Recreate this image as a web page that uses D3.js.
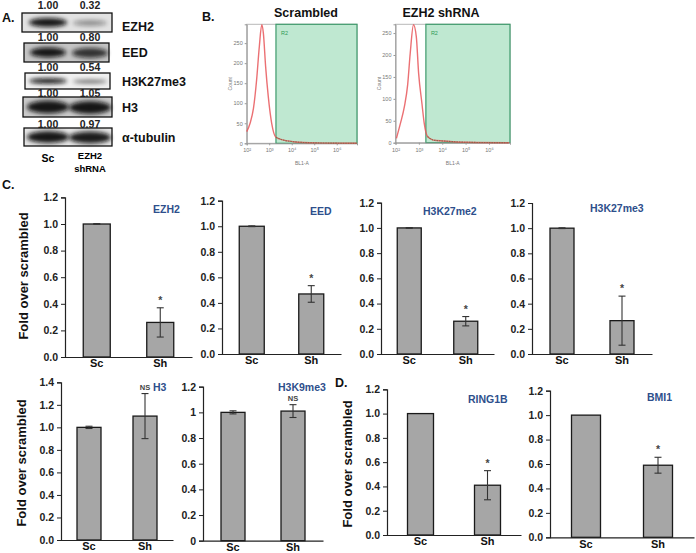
<!DOCTYPE html>
<html><head><meta charset="utf-8">
<script src="https://cdn.jsdelivr.net/npm/d3@7"></script>
<style>body{margin:0;background:#fff;} svg{display:block;font-family:"Liberation Sans",Arial,sans-serif;}</style>
</head><body><svg id="fig" width="696" height="553"></svg>
<script>
// ---------------- DATA ----------------
// Panel A: western blot quantification
const blotTargets = ["EZH2", "EED", "H3K27me3", "H3", "α-tubulin"];
const blotSc = [1.00, 1.00, 1.00, 1.00, 1.00];
const blotSh = [0.32, 0.80, 0.54, 1.05, 0.97];
const blotLanes = ["Sc", "EZH2 shRNA"];

// Panel B: flow cytometry histograms (log10 BL1-A, count)
const flowTitles = ["Scrambled", "EZH2 shRNA"];
const flowLogSc = [2.00, 2.15, 2.30, 2.44, 2.56, 2.67, 2.74, 2.84, 2.96, 3.11, 3.30, 3.63, 4.07, 5.11, 6.89];
const flowCountSc = [29, 50, 87, 158, 241, 296, 275, 192, 116, 50, 15, 8, 4, 1, 0];
const flowLogSh = [2.04, 2.21, 2.38, 2.52, 2.63, 2.77, 2.89, 2.99, 3.13, 3.23, 3.37, 3.62, 4.04, 5.03, 6.86];
const flowCountSh = [10, 44, 82, 132, 204, 269, 242, 158, 90, 44, 14, 6, 4, 1, 0];
const flowYMax = [297, 270];
const flowYTicks = [0, 50, 100, 150, 200, 250];
const flowXTicks = [2, 3, 4, 5, 6];
const flowGate = 3.3;
const flowGateName = "R2";

// Panels C & D: bar charts
const barTargets = ["EZH2", "EED", "H3K27me2", "H3K27me3", "H3", "H3K9me3", "RING1B", "BMI1"];
const barCategories = ["Sc", "Sh"];
const scMeans = [1.00, 1.00, 1.00, 1.00, 1.00, 1.00, 1.00, 1.00];
const scErr   = [0.003, 0.003, 0.003, 0.003, 0.01, 0.012, 0, 0];
const shMeans = [0.26, 0.47, 0.26, 0.265, 1.10, 1.01, 0.41, 0.59];
const shErr   = [0.11, 0.065, 0.037, 0.195, 0.20, 0.05, 0.12, 0.065];
const sigMarks = ["*", "*", "*", "*", "NS", "NS", "*", "*"];
const yMaxes = [1.2, 1.2, 1.2, 1.2, 1.4, 1.2, 1.2, 1.2];
const yLabel = "Fold over scrambled";

// ---------------- DRAW ----------------
const svg = d3.select("#fig");
const defs = svg.append("defs");
defs.append("filter").attr("id", "blur").attr("x", "-50%").attr("y", "-100%").attr("width", "200%").attr("height", "300%")
  .append("feGaussianBlur").attr("stdDeviation", 2);

function panelLetter(t, x, y) {
  svg.append("text").attr("x", x).attr("y", y).text(t)
    .attr("font-size", 12.5).attr("font-weight", "bold").attr("fill", "#111");
}
panelLetter("A.", 2, 22);
panelLetter("B.", 202, 21);
panelLetter("C.", 2, 189);
panelLetter("D.", 335, 387);

// ----- Panel A -----
const blotLayout = [
  {x0: 22, x1: 112, y0: 13, y1: 32, num: 8.5, lab: 31, bg: "#e2e2e2", ry: 4.5, rx: 19},
  {x0: 24, x1: 109, y0: 43, y1: 62, num: 40.5, lab: 57, bg: "#c4c4c4", ry: 5, rx: 18},
  {x0: 25, x1: 110, y0: 73, y1: 89, num: 70.5, lab: 86, bg: "#f0f0f0", ry: 2.8, rx: 19},
  {x0: 23, x1: 112, y0: 97, y1: 117, num: 96.5, lab: 112, bg: "#cacaca", ry: 6.5, rx: 21},
  {x0: 24, x1: 112, y0: 128, y1: 146, num: 127.5, lab: 142, bg: "#e4e4e4", ry: 6, rx: 21}
];
const laneX = d3.scalePoint().domain(blotLanes).range([48, 90]);
const bandOpacity = d3.scaleLinear().domain([0, 1]).range([0, 0.95]).clamp(true);
blotTargets.forEach((t, i) => {
  const L = blotLayout[i];
  const g = svg.append("g");
  g.append("rect").attr("x", L.x0).attr("y", L.y0).attr("width", L.x1 - L.x0).attr("height", L.y1 - L.y0)
    .attr("fill", L.bg).attr("stroke", "#111").attr("stroke-width", 1.3);
  const vals = [blotSc[i], blotSh[i]];
  const cy = (L.y0 + L.y1) / 2;
  blotLanes.forEach((lane, j) => {
    const v = vals[j];
    const thin = v < 0.6 ? 0.65 : 1;
    g.append("ellipse").attr("cx", laneX(lane)).attr("cy", cy + (j ? 0.5 : 0))
      .attr("rx", L.rx * (j && v < 0.6 ? 0.9 : 1)).attr("ry", L.ry * thin)
      .attr("fill", "#0d0d0d").attr("opacity", bandOpacity(Math.pow(v, 0.8)))
      .attr("filter", "url(#blur)");
    g.append("text").attr("x", laneX(lane)).attr("y", L.num).attr("text-anchor", "middle")
      .attr("font-size", 10.5).attr("font-weight", "bold").attr("fill", "#222")
      .text(v.toFixed(2));
  });
  g.append("text").attr("x", 122).attr("y", L.lab).text(t)
    .attr("font-size", 12.5).attr("font-weight", "bold").attr("fill", "#111");
});
svg.append("text").attr("x", laneX("Sc")).attr("y", 162).attr("text-anchor", "middle")
  .attr("font-size", 10.5).attr("font-weight", "bold").text(blotLanes[0]);
const shLab = svg.append("text").attr("x", laneX(blotLanes[1])).attr("y", 159).attr("text-anchor", "middle")
  .attr("font-size", 9.5).attr("font-weight", "bold");
blotLanes[1].split(" ").forEach((w, k) => shLab.append("tspan").attr("x", laneX(blotLanes[1])).attr("dy", k ? 12.5 : 0).text(w));

// ----- Panel B -----
const flowLayout = [
  {x0: 246.7, x1: 357, y0: 24.3, y1: 143.3, cx: 306},
  {x0: 395.5, x1: 510, y0: 24.3, y1: 142.7, cx: 441}
];
const flowData = [
  flowLogSc.map((x, k) => ({x, y: flowCountSc[k]})),
  flowLogSh.map((x, k) => ({x, y: flowCountSh[k]}))
];
const sup = {"2": "²", "3": "³", "4": "⁴", "5": "⁵", "6": "⁶"};
flowTitles.forEach((title, i) => {
  const L = flowLayout[i];
  const x = d3.scaleLinear().domain([2, 6.9]).range([L.x0, L.x1]);
  const y = d3.scaleLinear().domain([0, flowYMax[i]]).range([L.y1, L.y0]);
  const g = svg.append("g");
  svg.append("text").attr("x", L.cx).attr("y", 17).attr("text-anchor", "middle")
    .attr("font-size", 12.5).attr("font-weight", "bold").attr("fill", "#111").text(title);
  g.append("rect").attr("x", L.x0).attr("y", L.y0).attr("width", L.x1 - L.x0).attr("height", L.y1 - L.y0)
    .attr("fill", "#fff").attr("stroke", "#b8b8b8").attr("stroke-width", 1);
  g.append("rect").attr("x", x(flowGate)).attr("y", L.y0).attr("width", L.x1 - x(flowGate)).attr("height", L.y1 - L.y0)
    .attr("fill", "#bfe8d1").attr("stroke", "#3f9a6c").attr("stroke-width", 1.2);
  g.append("text").attr("x", x(flowGate) + 5).attr("y", L.y0 + 11).attr("font-size", 5.5)
    .attr("fill", "#2f9a55").text(flowGateName);
  const ya = d3.axisLeft(y).tickValues(flowYTicks).tickSize(2).tickPadding(2);
  g.append("g").attr("transform", `translate(${L.x0},0)`).call(ya)
    .call(s => { s.select(".domain").attr("stroke", "#999"); s.selectAll("line").attr("stroke", "#999");
      s.selectAll("text").attr("font-size", 5.5).attr("fill", "#777").attr("font-family", "Liberation Sans, Arial"); });
  const xa = d3.axisBottom(x).tickValues(flowXTicks).tickSize(2).tickPadding(3).tickFormat(d => "10" + sup[d]);
  g.append("g").attr("transform", `translate(0,${L.y1})`).call(xa)
    .call(s => { s.select(".domain").attr("stroke", "#999"); s.selectAll("line").attr("stroke", "#999");
      s.selectAll("text").attr("font-size", 5.5).attr("fill", "#777").attr("font-family", "Liberation Sans, Arial"); });
  g.append("text").attr("transform", `translate(${L.x0 - 15},${(L.y0 + L.y1) / 2}) rotate(-90)`)
    .attr("text-anchor", "middle").attr("font-size", 5).attr("fill", "#777").text("Count");
  g.append("text").attr("x", (L.x0 + L.x1) / 2).attr("y", 165).attr("text-anchor", "middle")
    .attr("font-size", 5).attr("fill", "#777").text("BL1-A");
  const line = d3.line().x(d => x(d.x)).y(d => y(d.y)).curve(d3.curveMonotoneX);
  g.append("path").datum(flowData[i]).attr("d", line).attr("fill", "none")
    .attr("stroke", "#e8575a").attr("stroke-width", 1.4).attr("stroke-opacity", 0.85);
  g.append("path").datum(flowData[i].filter(d => d.x >= flowGate - 0.05)).attr("d", line).attr("fill", "none")
    .attr("stroke", "#8a6a4a").attr("stroke-width", 1.1).attr("stroke-dasharray", "1.5,1");
});

// ----- Panels C & D -----
const barLayout = [
  {x0: 65, x1: 192, top: 197.4, bot: 357, bw: 27, tx: 153, ty: 213},
  {x0: 222, x1: 341, top: 200.7, bot: 354, bw: 25, tx: 310, ty: 214.5},
  {x0: 381, x1: 494, top: 202.7, bot: 354, bw: 24, tx: 423, ty: 214.5},
  {x0: 532, x1: 652, top: 203, bot: 354, bw: 24, tx: 590, ty: 211.5},
  {x0: 61, x1: 173, top: 382.3, bot: 540, bw: 24, tx: 153, ty: 390.5},
  {x0: 203, x1: 323, top: 386.7, bot: 540.7, bw: 24, tx: 278, ty: 390.5},
  {x0: 387, x1: 521, top: 389.3, bot: 535, bw: 26, tx: 468, ty: 402.5},
  {x0: 550, x1: 694, top: 390.7, bot: 537.3, bw: 29, tx: 647, ty: 400.5}
];
const fmt1 = d3.format(".1f");
const fmtG = d => String(+d.toFixed(1));

barTargets.forEach((t, i) => {
  const L = barLayout[i];
  const g = svg.append("g");
  const x = d3.scaleBand().domain(barCategories).range([L.x0, L.x1]);
  const y = d3.scaleLinear().domain([0, yMaxes[i]]).range([L.bot, L.top]);
  const ticks = d3.range(0, Math.round(yMaxes[i] / 0.2) + 1).map(k => +(k * 0.2).toFixed(1));
  const data = [
    {c: barCategories[0], v: scMeans[i], e: scErr[i]},
    {c: barCategories[1], v: shMeans[i], e: shErr[i]}
  ];
  g.selectAll("rect.bar").data(data).join("rect").attr("class", "bar")
    .attr("x", d => x(d.c) + x.bandwidth() / 2 - L.bw / 2).attr("width", L.bw)
    .attr("y", d => y(d.v)).attr("height", d => y(0) - y(d.v))
    .attr("fill", "#a6a6a6").attr("stroke", "#1a1a1a").attr("stroke-width", 1.3);
  data.forEach(d => {
    if (d.e <= 0) return;
    const cx = x(d.c) + x.bandwidth() / 2;
    g.append("line").attr("x1", cx).attr("x2", cx).attr("y1", y(d.v + d.e)).attr("y2", y(d.v - d.e))
      .attr("stroke", "#333").attr("stroke-width", 1.1);
    [d.v + d.e, d.v - d.e].forEach(v => g.append("line").attr("x1", cx - 3.5).attr("x2", cx + 3.5)
      .attr("y1", y(v)).attr("y2", y(v)).attr("stroke", "#333").attr("stroke-width", 1.1));
  });
  const sh = data[1];
  const sx = x(sh.c) + x.bandwidth() / 2;
  const sy = y(sh.v + sh.e) - 4;
  g.append("text").attr("x", sx).attr("y", sy).attr("text-anchor", "middle")
    .attr("font-weight", "bold").attr("fill", "#444")
    .attr("font-size", sigMarks[i] === "*" ? 10.5 : 7.5).text(sigMarks[i]);
  const ya = d3.axisLeft(y).tickValues(ticks).tickSize(4).tickPadding(3)
    .tickFormat(t === "H3K9me3" ? fmtG : fmt1);
  g.append("g").attr("transform", `translate(${L.x0},0)`).call(ya)
    .call(s => { s.select(".domain").attr("stroke", "#222").attr("stroke-width", 1.2);
      s.selectAll(".tick line").attr("stroke", "#222");
      s.selectAll("text").attr("font-size", 10.5).attr("font-weight", "bold").attr("fill", "#222")
        .attr("font-family", "Liberation Sans, Arial"); });
  const xa = d3.axisBottom(x).tickSize(0).tickPadding(2.5);
  g.append("g").attr("transform", `translate(0,${L.bot})`).call(xa)
    .call(s => { s.select(".domain").attr("stroke", "#222").attr("stroke-width", 1.2);
      s.selectAll("text").attr("font-size", 11).attr("font-weight", "bold").attr("fill", "#111")
        .attr("font-family", "Liberation Sans, Arial"); });
  g.append("text").attr("x", L.tx).attr("y", L.ty).attr("font-size", 10.5).attr("font-weight", "bold")
    .attr("fill", "#2e4f8c").text(t);
});

[[27.5, 276], [26, 463], [352, 464]].forEach(([lx, ly]) => {
  svg.append("text").attr("transform", `translate(${lx},${ly}) rotate(-90)`).attr("text-anchor", "middle")
    .attr("font-size", 13).attr("font-weight", "bold").attr("fill", "#111").text(yLabel);
});
</script></body></html>
